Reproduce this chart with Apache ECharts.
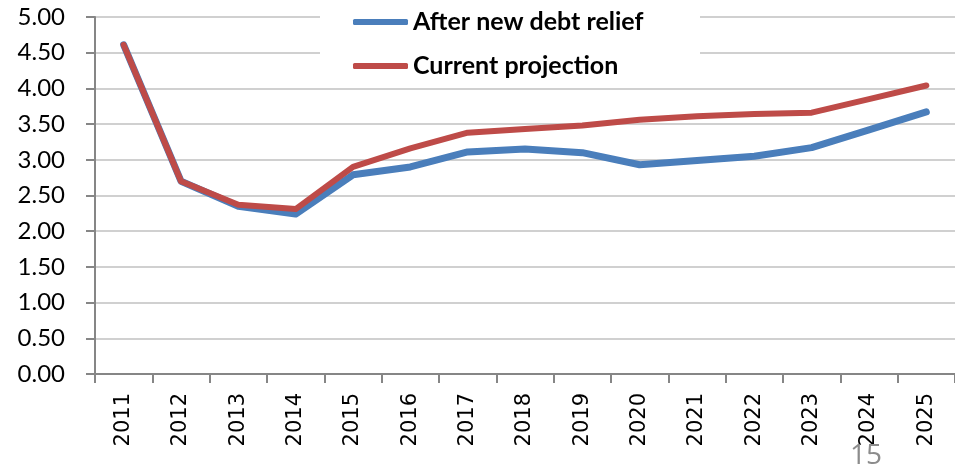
<!DOCTYPE html>
<html>
<head>
<meta charset="utf-8">
<title>Debt service projection</title>
<script src="https://cdn.jsdelivr.net/npm/echarts@6/dist/echarts.min.js"></script>
<style>
  html, body { margin: 0; padding: 0; background: #ffffff; }
  #chart { width: 955px; height: 466px; }
</style>
</head>
<body>
<div id="chart"></div>
<script>
// Projection years
const years = ['2011', '2012', '2013', '2014', '2015', '2016', '2017', '2018',
  '2019', '2020', '2021', '2022', '2023', '2024', '2025'];

// Series values
const afterRelief = [4.61, 2.70, 2.35, 2.24, 2.79, 2.90, 3.11, 3.15, 3.10, 2.93,
  2.99, 3.05, 3.17, 3.42, 3.67];
const currentProjection = [4.61, 2.70, 2.37, 2.31, 2.90, 3.16, 3.38, 3.43, 3.48, 3.56,
  3.61, 3.64, 3.66, 3.85, 4.04];

// Value axis range
const yMin = 0;
const yMax = 5;
const yStep = 0.5;

const seriesNames = ['After new debt relief', 'Current projection'];
const pageNumber = '15';

const chart = echarts.init(document.getElementById('chart'), null, { renderer: 'canvas' });

chart.setOption({
  animation: false,
  backgroundColor: '#ffffff',
  grid: { left: 95, top: 17, width: 864, height: 357, containLabel: false },
  graphic: [
    {
      type: 'rect',
      z: 3,
      shape: { x: 320, y: 0, width: 380, height: 86 },
      style: { fill: '#ffffff' }
    },
    {
      type: 'text',
      z: 5,
      left: 850,
      top: 442,
      style: {
        text: pageNumber,
        fontFamily: 'Open Sans',
        fontSize: 28,
        fill: '#8c8c8c'
      }
    }
  ],
  legend: {
    z: 4,
    orient: 'vertical',
    left: 320,
    top: 0,
    padding: [9, 0, 0, 33],
    itemGap: 18,
    itemWidth: 55,
    itemHeight: 6,
    icon: 'roundRect',
    data: seriesNames,
    textStyle: {
      fontFamily: 'Lato',
      fontWeight: 'bold',
      fontSize: 25,
      lineHeight: 26,
      color: '#000000'
    }
  },
  xAxis: {
    type: 'category',
    data: years,
    boundaryGap: true,
    axisLine: { lineStyle: { color: '#868686', width: 2 } },
    axisTick: { show: true, length: 9, lineStyle: { color: '#868686', width: 2 } },
    axisLabel: {
      rotate: 90,
      margin: 19,
      interval: 0,
      fontFamily: 'DejaVu Sans',
      fontSize: 21,
      color: '#000000'
    },
    splitLine: { show: false }
  },
  yAxis: {
    type: 'value',
    min: yMin,
    max: yMax,
    interval: yStep,
    axisLine: { show: true, lineStyle: { color: '#868686', width: 2 } },
    axisTick: { show: true, length: 9, lineStyle: { color: '#868686', width: 2 } },
    axisLabel: {
      margin: 30,
      fontFamily: 'Lato',
      fontSize: 24,
      color: '#000000',
      formatter: v => v.toFixed(2)
    },
    splitLine: { show: true, lineStyle: { color: '#c0c0c0', width: 1.5 } }
  },
  series: [
    {
      name: seriesNames[0],
      type: 'line',
      data: afterRelief,
      symbol: 'none',
      color: '#4a7ebb',
      lineStyle: { color: '#4a7ebb', width: 7, cap: 'round', join: 'round' },
      z: 2
    },
    {
      name: seriesNames[1],
      type: 'line',
      data: currentProjection,
      symbol: 'none',
      color: '#be4b48',
      lineStyle: { color: '#be4b48', width: 6, cap: 'round', join: 'round' },
      z: 3
    }
  ]
});
</script>
</body>
</html>
